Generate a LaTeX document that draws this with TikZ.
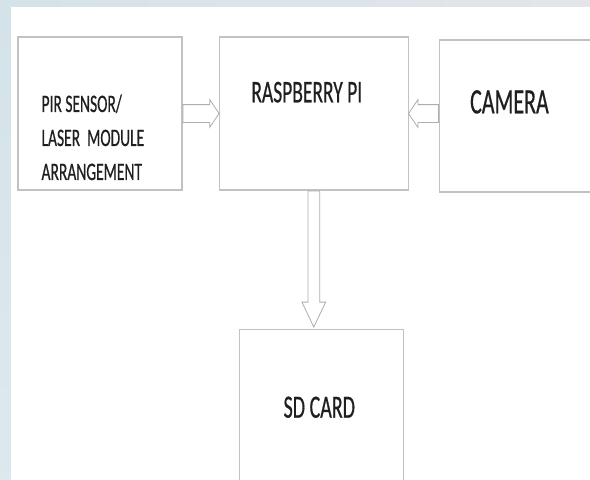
\documentclass[tikz,border=0pt]{standalone}
\usepackage{fontspec}
\setmainfont{Carlito}
\newfontfamily\labelfont{Carlito}[FakeBold=0.7]
\usetikzlibrary{calc,positioning,shapes.arrows}
\definecolor{edgeblue}{HTML}{D4E3E9}
\definecolor{edgegray}{HTML}{E3E5E9}
\definecolor{boxline}{HTML}{C2C2C2}
\definecolor{arrowline}{HTML}{AEAEAE}
\newcommand{\stretchtext}[1]{\scalebox{1}[1.62]{#1}}
\tikzset{
    block/.style = {
        draw = boxline,
        line width = 1.3pt,
        fill = white,
        inner sep = 0pt,
        },
    caption/.style = {
        text = black!88,
        inner sep = 0pt,
        },
    flow/.style = {
        single arrow,
        draw = arrowline,
        line width = 0.8pt,
        fill = white,
        inner sep = 0pt,
        minimum width = 0pt,
        anchor = tail,
        },
}

\begin{document}
\begin{tikzpicture}[x=1pt, y=-1pt, node distance=36pt]
    \useasboundingbox (0,0) rectangle (590,480);
    \clip (0,0) rectangle (590,480);

    % backdrop
    \shade[left color=edgeblue, right color=edgegray] (0,0) rectangle (590,7);
    \shade[top color=edgeblue, bottom color=edgeblue!80!white] (0,7) rectangle (11,480);
    \fill[white] (11,7) rectangle (590,480);

    % blocks
    \node [block, minimum width=164pt, minimum height=153pt] (pir) at (100,113.5) {};
    \node [block, minimum width=189pt, minimum height=153pt, right=of pir] (rpi) {};
    \node [block, minimum width=163pt, minimum height=152pt, right=30pt of rpi, yshift=-2.5pt] (cam) {};
    \node [block, minimum width=164pt, minimum height=158pt, below=136pt of rpi, xshift=7.5pt, yshift=-2pt] (sd) {};

    % captions
    \node [caption, anchor=north west, align=left, font=\labelfont\fontsize{15.5}{34}\selectfont]
        (pirtext) at ($(pir.north west)+(24,58)$)
        {\stretchtext{PIR SENSOR/}\\\stretchtext{LASER\ \ MODULE}\\\stretchtext{ARRANGEMENT}};
    \node [caption, anchor=base, font=\labelfont\fontsize{19.5}{20}\selectfont]
        (rpitext) at ($(rpi.north)+(-7,66)$) {\stretchtext{RASPBERRY PI}};
    \node [caption, anchor=base, font=\labelfont\fontsize{22}{24}\selectfont]
        (camtext) at ($(cam.north west)+(70.5,74)$) {\stretchtext{CAMERA}};
    \node [caption, anchor=base, font=\labelfont\fontsize{20}{22}\selectfont]
        (sdtext) at ($(sd.north)+(-2,89)$) {\stretchtext{SD CARD}};

    % block arrows
    \node [flow, minimum height=36pt, inner ysep=8.5pt, single arrow head extend=5pt,
           single arrow tip angle=112] (pirflow) at (pir.east) {};
    \node [flow, minimum height=30pt, inner ysep=8.5pt, single arrow head extend=5pt,
           single arrow tip angle=112, shape border rotate=180] (camflow) at (cam.west |- rpi.east) {};
    \node [flow, minimum height=136pt, inner xsep=5.5pt, single arrow head extend=6pt,
           single arrow tip angle=51, shape border rotate=270] (sdflow) at (rpi.south) {};
\end{tikzpicture}
\end{document}
